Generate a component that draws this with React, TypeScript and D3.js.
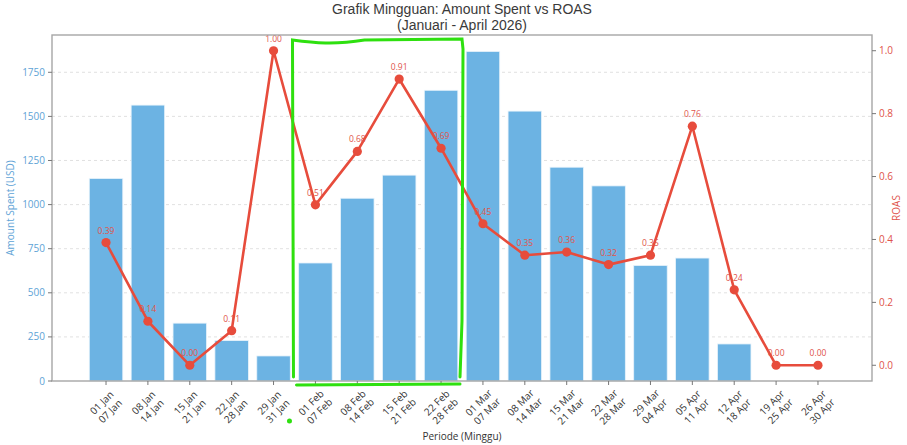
import React, { useEffect, useRef } from 'react';
import * as d3 from 'd3';

// Weekly periods (start / end of each week)
const weekStart = ['01 Jan', '08 Jan', '15 Jan', '22 Jan', '29 Jan', '01 Feb', '08 Feb', '15 Feb', '22 Feb',
  '01 Mar', '08 Mar', '15 Mar', '22 Mar', '29 Mar', '05 Apr', '12 Apr', '19 Apr', '26 Apr'];
const weekEnd = ['07 Jan', '14 Jan', '21 Jan', '28 Jan', '31 Jan', '07 Feb', '14 Feb', '21 Feb', '28 Feb',
  '07 Mar', '14 Mar', '21 Mar', '28 Mar', '04 Apr', '11 Apr', '18 Apr', '25 Apr', '30 Apr'];

// Amount spent (USD) per week
const amountSpent = [1148, 1564, 328, 229, 142, 669, 1036, 1167, 1648, 1868, 1530, 1212, 1106, 655, 697, 210, 0, 0];

// ROAS per week
const roas = [0.39, 0.14, 0.0, 0.11, 1.0, 0.51, 0.68, 0.91, 0.69, 0.45, 0.35, 0.36, 0.32, 0.35, 0.76, 0.24, 0.0, 0.0];

const amountTicks = [0, 250, 500, 750, 1000, 1250, 1500, 1750];
const roasTicks = [0.0, 0.2, 0.4, 0.6, 0.8, 1.0];

const titleLines = ['Grafik Mingguan: Amount Spent vs ROAS', '(Januari - April 2026)'];

// highlighted weeks (hand drawn box): 01 Feb .. 22 Feb
const highlight = [5, 8];

const BLUE = '#6cb3e3';
const BLUE_TEXT = '#5ea3d6';
const RED = '#e74c3c';
const RED_TEXT = '#e0534a';
const FONT = '"Open Sans", "DejaVu Sans", sans-serif';

const App = () => {
  const chartRef = useRef<HTMLDivElement>(null);

  useEffect(() => {
    const width = 907;
    const height = 445;
    const margin = { top: 35, right: 35, bottom: 64, left: 52 };
    const x0 = margin.left;
    const x1 = width - margin.right;
    const y0 = height - margin.bottom;
    const y1 = margin.top;

    const svg = d3
      .select(chartRef.current)
      .append('svg')
      .attr('width', width)
      .attr('height', height)
      .style('display', 'block')
      .style('background', '#fff')
      .style('font-family', FONT);

    const n = weekStart.length;
    const pad = 0.05 * (n - 1 + 0.8);
    const xScale = d3.scaleLinear().domain([-0.4 - pad, n - 1 + 0.4 + pad]).range([x0, x1]);
    const yLeft = d3.scaleLinear().domain([0, (d3.max(amountSpent) as number) * 1.05]).range([y0, y1]);
    const yRight = d3.scaleLinear().domain([-0.05, 1.05]).range([y0, y1]);

    // Title
    svg
      .append('g')
      .attr('font-size', 14)
      .attr('font-family', '"Liberation Sans", Arial, sans-serif')
      .attr('fill', '#3a3a3a')
      .attr('text-anchor', 'middle')
      .selectAll('text')
      .data(titleLines)
      .enter()
      .append('text')
      .attr('x', (x0 + x1) / 2)
      .attr('y', (d, i) => 13.5 + i * 16)
      .text((d) => d);

    // Grid lines (left axis)
    svg
      .append('g')
      .selectAll('line')
      .data(amountTicks.filter((d) => d > 0))
      .enter()
      .append('line')
      .attr('x1', x0)
      .attr('x2', x1)
      .attr('y1', (d) => yLeft(d))
      .attr('y2', (d) => yLeft(d))
      .attr('stroke', '#d9d9d9')
      .attr('stroke-width', 0.8)
      .attr('stroke-dasharray', '3,3');

    // Bars
    const bw = xScale(0.4) - xScale(-0.4);
    svg
      .append('g')
      .selectAll('rect')
      .data(amountSpent)
      .enter()
      .append('rect')
      .attr('x', (d, i) => xScale(i) - bw / 2)
      .attr('y', (d) => yLeft(d))
      .attr('width', bw)
      .attr('height', (d) => y0 - yLeft(d))
      .attr('fill', BLUE)
      .attr('stroke', '#e8f3fb')
      .attr('stroke-width', 0.8);

    // ROAS line
    const line = d3
      .line<number>()
      .x((d, i) => xScale(i))
      .y((d) => yRight(d));
    svg
      .append('path')
      .datum(roas)
      .attr('d', line)
      .attr('fill', 'none')
      .attr('stroke', RED)
      .attr('stroke-width', 2.6)
      .attr('stroke-linejoin', 'round');

    svg
      .append('g')
      .selectAll('circle')
      .data(roas)
      .enter()
      .append('circle')
      .attr('cx', (d, i) => xScale(i))
      .attr('cy', (d) => yRight(d))
      .attr('r', 4.6)
      .attr('fill', RED);

    svg
      .append('g')
      .attr('font-size', 8.5)
      .attr('fill', RED_TEXT)
      .attr('text-anchor', 'middle')
      .selectAll('text')
      .data(roas)
      .enter()
      .append('text')
      .attr('x', (d, i) => xScale(i))
      .attr('y', (d) => yRight(d) - 9)
      .text((d) => d.toFixed(2));

    // Spines
    svg
      .append('rect')
      .attr('x', x0)
      .attr('y', y1)
      .attr('width', x1 - x0)
      .attr('height', y0 - y1)
      .attr('fill', 'none')
      .attr('stroke', '#a6a6a6')
      .attr('stroke-width', 1.4);

    // Left axis
    const left = svg.append('g');
    left
      .selectAll('line')
      .data(amountTicks)
      .enter()
      .append('line')
      .attr('x1', x0 - 4)
      .attr('x2', x0)
      .attr('y1', (d) => yLeft(d))
      .attr('y2', (d) => yLeft(d))
      .attr('stroke', '#777');
    left
      .selectAll('text')
      .data(amountTicks)
      .enter()
      .append('text')
      .attr('x', x0 - 7)
      .attr('y', (d) => yLeft(d))
      .attr('dy', '0.35em')
      .attr('text-anchor', 'end')
      .attr('font-size', 10)
      .attr('fill', BLUE_TEXT)
      .text((d) => d);
    svg
      .append('text')
      .attr('transform', `translate(14, ${(y0 + y1) / 2}) rotate(-90)`)
      .attr('text-anchor', 'middle')
      .attr('font-size', 10)
      .attr('fill', BLUE_TEXT)
      .text('Amount Spent (USD)');

    // Right axis
    const right = svg.append('g');
    right
      .selectAll('line')
      .data(roasTicks)
      .enter()
      .append('line')
      .attr('x1', x1)
      .attr('x2', x1 + 4)
      .attr('y1', (d) => yRight(d))
      .attr('y2', (d) => yRight(d))
      .attr('stroke', '#777');
    right
      .selectAll('text')
      .data(roasTicks)
      .enter()
      .append('text')
      .attr('x', x1 + 7)
      .attr('y', (d) => yRight(d))
      .attr('dy', '0.35em')
      .attr('font-size', 10)
      .attr('fill', RED_TEXT)
      .text((d) => d.toFixed(1));
    svg
      .append('text')
      .attr('transform', `translate(${width - 7}, ${(y0 + y1) / 2}) rotate(-90)`)
      .attr('text-anchor', 'middle')
      .attr('font-size', 10)
      .attr('fill', RED_TEXT)
      .text('ROAS');

    // Bottom axis
    const bottom = svg.append('g');
    bottom
      .selectAll('line')
      .data(weekStart)
      .enter()
      .append('line')
      .attr('x1', (d, i) => xScale(i))
      .attr('x2', (d, i) => xScale(i))
      .attr('y1', y0)
      .attr('y2', y0 + 4)
      .attr('stroke', '#777');
    const labels = bottom
      .selectAll('g')
      .data(weekStart)
      .enter()
      .append('g')
      .attr('transform', (d, i) => `translate(${xScale(i)}, ${y0 + 26}) rotate(-45)`)
      .attr('font-size', 10)
      .attr('fill', '#333')
      .attr('text-anchor', 'middle');
    labels
      .append('text')
      .attr('y', -6)
      .attr('dy', '0.35em')
      .text((d) => d);
    labels
      .append('text')
      .attr('y', 6)
      .attr('dy', '0.35em')
      .text((d, i) => weekEnd[i]);
    svg
      .append('text')
      .attr('x', (x0 + x1) / 2)
      .attr('y', height - 5)
      .attr('text-anchor', 'middle')
      .attr('font-size', 10)
      .attr('fill', '#333')
      .text('Periode (Minggu)');

    // Hand drawn highlight box
    const gx0 = xScale(highlight[0] - 0.5);
    const gx1 = xScale(highlight[1] + 0.5);
    const green = svg
      .append('g')
      .attr('fill', 'none')
      .attr('stroke', '#2ee00f')
      .attr('stroke-width', 3)
      .attr('stroke-linecap', 'round');
    green
      .append('path')
      .attr(
        'd',
        `M${gx0 - 1},${y0 - 4} L${gx0 - 2},${y1 + 6} L${gx0 - 2},${y1 + 5} ` +
          `C${gx0 + 20},${y1 + 8} ${gx0 + 40},${y1 + 10} ${gx0 + 70},${y1 + 5} ` +
          `L${gx1},${y1 + 4} L${gx1 + 1},${y1 + 14} L${gx1},${y0 - 60} L${gx1 - 2},${y0 - 4}`
      );
    green
      .append('path')
      .attr('d', `M${gx0 + 2},${y0 + 4} L${gx1 - 2},${y0 + 3}`);
    green
      .append('circle')
      .attr('cx', gx0 - 5)
      .attr('cy', y0 + 40)
      .attr('r', 1)
      .attr('fill', '#2ee00f');

    return () => {
      svg.remove();
    };
  }, []);

  return <div ref={chartRef} style={{ position: 'fixed', left: 0, top: 0 }}></div>;
};

export default App;
